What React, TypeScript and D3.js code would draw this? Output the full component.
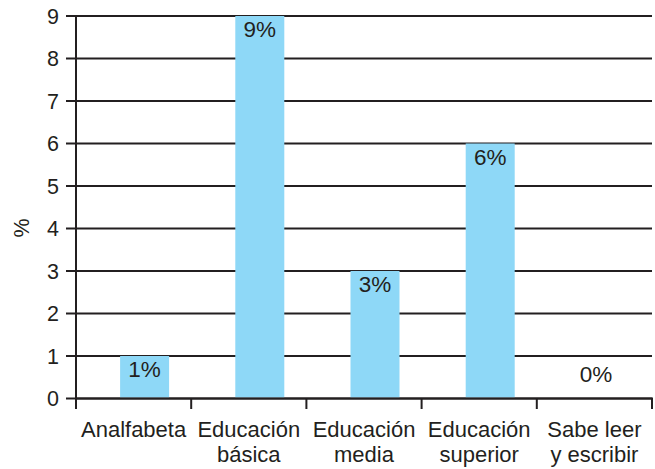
import React from "react";
import * as d3 from "d3";

const categories: string[][] = [
  ["Analfabeta"],
  ["Educación", "básica"],
  ["Educación", "media"],
  ["Educación", "superior"],
  ["Sabe leer", "y escribir"],
];
const values: number[] = [1, 9, 3, 6, 0];
const valueLabels: string[] = ["1%", "9%", "3%", "6%", "0%"];
const yTicks: number[] = [0, 1, 2, 3, 4, 5, 6, 7, 8, 9];

const W = 655;
const H = 469;
const left = 76;
const right = 652;
const top = 16;
const bottom = 398.5;
const ink = "#231f20";
const barColor = "#8ed8f7";
const font = "Liberation Sans, Arial, Helvetica, sans-serif";

export default function App() {
  const x = d3
    .scaleBand<number>()
    .domain(categories.map((_, i) => i))
    .range([left, right])
    .paddingInner(0)
    .paddingOuter(0);
  const y = d3.scaleLinear().domain([0, 9]).range([bottom, top]);
  const bw = 49;
  const barOffset = 11;

  return (
    <svg
      width={W}
      height={H}
      style={{ position: "absolute", left: 0, top: 0, background: "#fff" }}
      fontFamily={font}
    >
      {yTicks.map((t) => (
        <g key={t}>
          <line x1={66} x2={right} y1={y(t)} y2={y(t)} stroke={ink} strokeWidth={2} />
          <text x={59} y={y(t) + 7.5} textAnchor="end" fontSize={21.5} fill={ink}>
            {t}
          </text>
        </g>
      ))}
      {values.map((v, i) => {
        const cx = (x(i) as number) + x.bandwidth() / 2 + barOffset;
        return (
          <rect
            key={i}
            x={cx - bw / 2}
            y={y(v)}
            width={bw}
            height={bottom - y(v) - 1}
            fill={barColor}
          />
        );
      })}
      {values.map((v, i) => {
        const bc = (x(i) as number) + x.bandwidth() / 2;
        const cx = v === 0 ? bc + 1.5 : bc + barOffset;
        const by = Math.min(y(v) + 21, bottom - 17);
        return (
          <text key={i} x={cx} y={by} textAnchor="middle" fontSize={22.5} fill={ink}>
            {valueLabels[i]}
          </text>
        );
      })}
      <line x1={left} x2={left} y1={top - 1} y2={409} stroke={ink} strokeWidth={2} />
      <line x1={left} x2={right + 1} y1={bottom} y2={bottom} stroke={ink} strokeWidth={2} />
      {categories.map((_, i) => (
        <line
          key={i}
          x1={(x(i) as number) + x.bandwidth()}
          x2={(x(i) as number) + x.bandwidth()}
          y1={bottom}
          y2={409}
          stroke={ink}
          strokeWidth={2}
        />
      ))}
      {categories.map((lines, i) => (
        <text
          key={i}
          x={(x(i) as number) + x.bandwidth() / 2}
          textAnchor="middle"
          fontSize={22}
          fill={ink}
        >
          {lines.map((l, j) => (
            <tspan key={j} x={(x(i) as number) + x.bandwidth() / 2} y={437 + j * 25}>
              {l}
            </tspan>
          ))}
        </text>
      ))}
      <text
        transform={`translate(${29},${228}) rotate(-90)`}
        textAnchor="middle"
        fontSize={21.5}
        fill={ink}
      >
        %
      </text>
    </svg>
  );
}
